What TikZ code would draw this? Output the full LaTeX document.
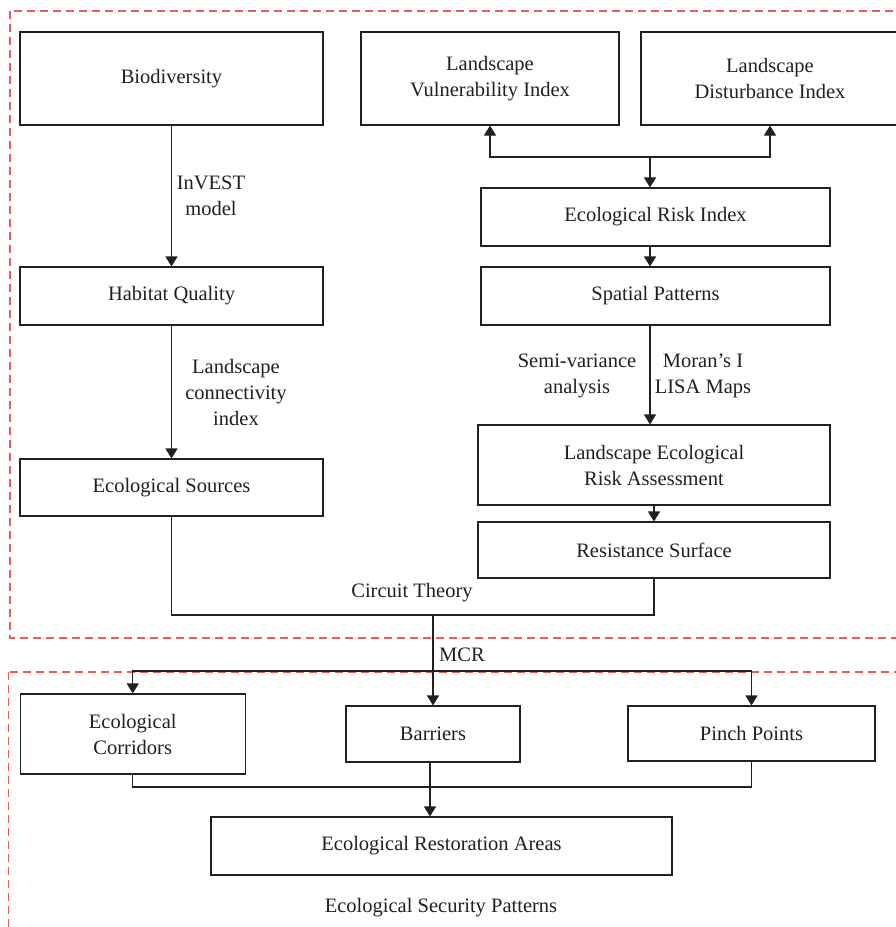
\documentclass[tikz,border=0pt]{standalone}
\usepackage{fontspec}
\setmainfont{Liberation Serif}
\usetikzlibrary{arrows.meta}
\definecolor{ink}{HTML}{231F20}
\definecolor{redash}{HTML}{EF5A5A}
\begin{document}
\begin{tikzpicture}[x=1pt,y=-1pt,
  every node/.style={font=\fontsize{20.5}{26}\selectfont, text=ink},
  box/.style={draw=ink, line width=1.1pt, inner sep=0pt, align=center},
  lbl/.style={align=center, inner sep=0pt},
  conn/.style={draw=ink, line width=1.1pt},
  arr/.style={conn, -{Triangle[width=12pt,length=10pt]}},
  frame/.style={draw=redash, line width=1.3pt, dash pattern=on 8pt off 5pt}]
\useasboundingbox (0,0) rectangle (895,927);
% frames
\draw[frame] (10,11) rectangle (910,638);
\draw[frame] (8.5,672) rectangle (910,945);
% boxes
\node[box, minimum width=303, minimum height=93] (bio) at (171.5,78.5) {Biodiversity};
\node[box, minimum width=258, minimum height=93] (vul) at (490,78.5) {Landscape\\Vulnerability Index};
\node[box, minimum width=258, minimum height=93] (dis) at (770,78.5) {Landscape\\Disturbance Index};
\node[box, minimum width=349, minimum height=58] (eri) at (655.5,217) {Ecological Risk Index};
\node[box, minimum width=303, minimum height=58] (hab) at (171.5,296) {Habitat Quality};
\node[box, minimum width=349, minimum height=58] (sp) at (655.5,296) {Spatial Patterns};
\node[box, minimum width=303, minimum height=57] (src) at (171.5,487.5) {Ecological Sources};
\node[box, minimum width=352, minimum height=80] (lera) at (654,465) {Landscape Ecological\\Risk Assessment};
\node[box, minimum width=352, minimum height=56] (res) at (654,550) {Resistance Surface};
\node[box, minimum width=225, minimum height=80] (cor) at (132.75,734) {Ecological\\Corridors};
\node[box, minimum width=174, minimum height=56] (bar) at (433,734) {Barriers};
\node[box, minimum width=247, minimum height=55] (pin) at (751.5,733.5) {Pinch Points};
\node[box, minimum width=461, minimum height=58] (era) at (441.5,846) {Ecological Restoration Areas};
% labels
\node[lbl] (l1) at (211,195.5) {InVEST\\model};
\node[lbl] (l2) at (236,392) {Landscape\\connectivity\\index};
\node[lbl] (l3) at (577,375.5) {Semi-variance\\analysis};
\node[lbl] (l4) at (703,375.5) {Moran’s I\\LISA Maps};
\node[lbl] (l5) at (412,593) {Circuit Theory};
\node[lbl] (l6) at (462,655) {MCR};
\node[lbl] (l7) at (441,908) {Ecological Security Patterns};
% junctions
\coordinate (j1) at (650,157);
\coordinate (j2) at (433,615);
\coordinate (j3) at (433,671);
\coordinate (j4) at (430,787);
% connectors
\draw[arr] (bio.south) -- (hab.north);
\draw[arr] (hab.south) -- (src.north);
\draw[arr] (j1) -| (vul.south);
\draw[arr] (j1) -| (dis.south);
\draw[arr] (j1) -- (j1 |- eri.north);
\draw[arr] (eri.south -| j1) -- (sp.north -| j1);
\draw[arr] (sp.south -| j1) -- (lera.north -| j1);
\draw[arr] (lera.south) -- (res.north);
\draw[conn] (src.south) |- (j2) -| (res.south);
\draw[arr] (j2) -- (bar.north);
\draw[arr] (j3) -| (cor.north);
\draw[arr] (j3) -| (pin.north);
\draw[conn] (cor.south) |- (j4) -| (pin.south);
\draw[arr] (bar.south -| j4) -- (era.north -| j4);
\end{tikzpicture}
\end{document}
